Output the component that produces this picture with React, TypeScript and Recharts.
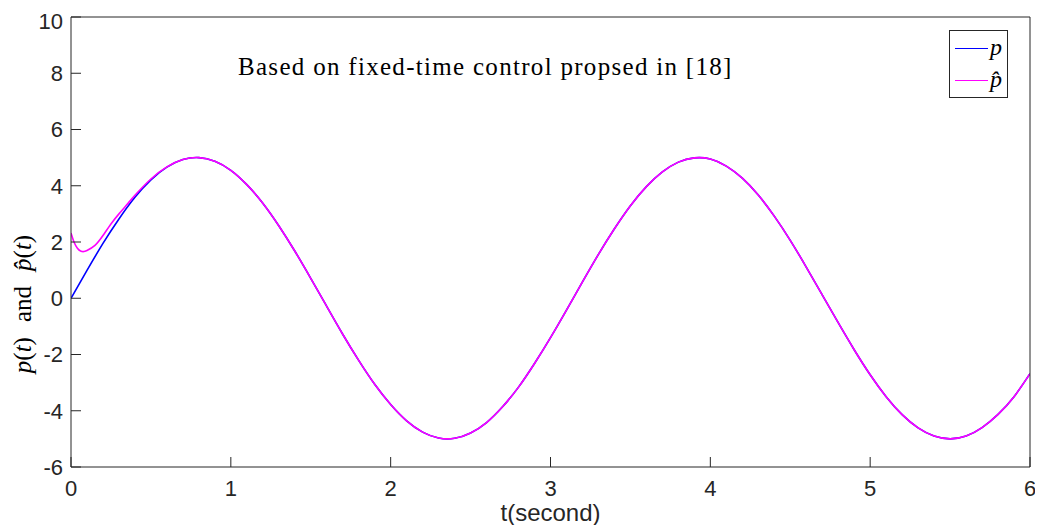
import React from 'react';
import { LineChart, Line, XAxis, YAxis } from 'recharts';

const tValues = [
  0, 0.1, 0.2, 0.3, 0.4, 0.5, 0.6, 0.7, 0.8, 0.9,
  1.0, 1.1, 1.2, 1.3, 1.4, 1.5, 1.6, 1.7, 1.8, 1.9,
  2.0, 2.1, 2.2, 2.3, 2.4, 2.5, 2.6, 2.7, 2.8, 2.9,
  3.0, 3.1, 3.2, 3.3, 3.4, 3.5, 3.6, 3.7, 3.8, 3.9,
  4.0, 4.1, 4.2, 4.3, 4.4, 4.5, 4.6, 4.7, 4.8, 4.9,
  5.0, 5.1, 5.2, 5.3, 5.4, 5.5, 5.6, 5.7, 5.8, 5.9, 6.0,
];
const pValues = [
  0, 0.99, 1.95, 2.82, 3.59, 4.21, 4.66, 4.93, 5.0, 4.87,
  4.55, 4.04, 3.38, 2.58, 1.68, 0.71, -0.29, -1.28, -2.21, -3.06,
  -3.78, -4.36, -4.76, -4.97, -4.98, -4.79, -4.42, -3.86, -3.16, -2.32,
  -1.4, -0.42, 0.58, 1.56, 2.47, 3.29, 3.97, 4.49, 4.84, 4.99,
  4.95, 4.7, 4.27, 3.67, 2.92, 2.06, 1.11, 0.12, -0.87, -1.83,
  -2.72, -3.5, -4.14, -4.61, -4.9, -5.0, -4.9, -4.6, -4.13, -3.5, -2.68,
];
const tHatEarly = [0, 0.02, 0.04, 0.06, 0.08, 0.1, 0.15, 0.2, 0.25, 0.3, 0.35, 0.4, 0.5, 0.6];
const pHatEarly = [2.32, 1.98, 1.78, 1.68, 1.66, 1.7, 1.88, 2.23, 2.64, 3.0, 3.33, 3.66, 4.24, 4.67];

const xTicks = [0, 1, 2, 3, 4, 5, 6];
const yTicks = [-6, -4, -2, 0, 2, 4, 6, 8, 10];

const pData = tValues.map((t, i) => ({ t, v: pValues[i] }));
const pHatData = [
  ...tHatEarly.map((t, i) => ({ t, v: pHatEarly[i] })),
  ...pData.filter((d) => d.t >= 0.7),
];

const AX = '#262626';
const tickStyle = { fontFamily: '"Liberation Sans", Arial, sans-serif', fontSize: 22, fill: AX };
const serif = '"Liberation Serif", "Times New Roman", serif';

export default function App() {
  return (
    <div style={{ position: 'relative', width: 1035, height: 517, background: '#fff' }}>
      <LineChart
        width={1035}
        height={517}
        margin={{ top: 8, right: 12, bottom: 0, left: 0 }}
      >
        <XAxis
          xAxisId="b"
          dataKey="t"
          type="number"
          domain={[0, 6]}
          ticks={xTicks}
          allowDataOverflow
          height={58}
          tickSize={-10}
          tickMargin={23}
          stroke={AX}
          tick={tickStyle}
          axisLine={{ stroke: AX }}
          tickLine={{ stroke: AX }}
        />
        <XAxis
          xAxisId="t"
          orientation="top"
          dataKey="t"
          type="number"
          domain={[0, 6]}
          ticks={xTicks}
          height={1}
          tickSize={-10}
          tick={false}
          stroke={AX}
          axisLine={{ stroke: AX }}
          tickLine={{ stroke: AX }}
        />
        <YAxis
          yAxisId="l"
          type="number"
          domain={[-6, 10]}
          ticks={yTicks}
          width={63}
          tickSize={-10}
          tickMargin={18}
          stroke={AX}
          tick={tickStyle}
        />
        <YAxis
          yAxisId="r"
          orientation="right"
          type="number"
          domain={[-6, 10]}
          ticks={yTicks}
          width={1}
          tickSize={-10}
          tick={false}
          stroke={AX}
          axisLine={{ stroke: AX }}
          tickLine={{ stroke: AX }}
        />
        <Line
          xAxisId="b"
          yAxisId="l"
          data={pData}
          dataKey="v"
          type="natural"
          stroke="#0000FF"
          strokeWidth={1.6}
          dot={false}
          isAnimationActive={false}
        />
        <Line
          xAxisId="b"
          yAxisId="l"
          data={pHatData}
          dataKey="v"
          type="natural"
          stroke="#FF00FF"
          strokeWidth={1.6}
          dot={false}
          isAnimationActive={false}
        />
      </LineChart>

      <div
        style={{
          position: 'absolute', left: 230, top: 46, fontFamily: serif, fontSize: 25,
          letterSpacing: 1.3, lineHeight: '25px', color: '#000', whiteSpace: 'nowrap',
        }}
      >
        Based on fixed-time control propsed in [18]
      </div>

      <div
        style={{
          position: 'absolute', left: 0, top: 494, width: 1085, textAlign: 'center',
          fontFamily: '"Liberation Sans", Arial, sans-serif', fontSize: 24, lineHeight: '22px',
          color: AX, whiteSpace: 'nowrap',
        }}
      >
        t(second)
      </div>

      <div
        style={{
          position: 'absolute', left: 15, top: 296, width: 0, height: 0,
        }}
      >
        <div
          style={{
            position: 'absolute', left: 0, top: 0, transform: 'translate(-50%, -50%) rotate(-90deg)',
            fontFamily: serif, fontSize: 25, lineHeight: '28px', whiteSpace: 'nowrap', color: '#000',
          }}
        >
          <i>p</i>(<i>t</i>)<span style={{ display: 'inline-block', width: 15 }} />and<span style={{ display: 'inline-block', width: 15 }} /><i>p&#770;</i>(<i>t</i>)
        </div>
      </div>

      <div
        style={{
          position: 'absolute', left: 941, top: 22, width: 57, height: 66,
          border: `1px solid ${AX}`, background: '#fff',
        }}
      >
        <div style={{ position: 'absolute', left: 5, top: 17, width: 33, height: 0, borderTop: '1.6px solid #0000FF' }} />
        <div style={{ position: 'absolute', left: 5, top: 49, width: 33, height: 0, borderTop: '1.6px solid #FF00FF' }} />
        <div style={{ position: 'absolute', left: 40, top: 4, fontFamily: serif, fontStyle: 'italic', fontSize: 24, lineHeight: '24px' }}>p</div>
        <div style={{ position: 'absolute', left: 40, top: 36, fontFamily: serif, fontStyle: 'italic', fontSize: 24, lineHeight: '24px' }}>p&#770;</div>
      </div>
    </div>
  );
}
